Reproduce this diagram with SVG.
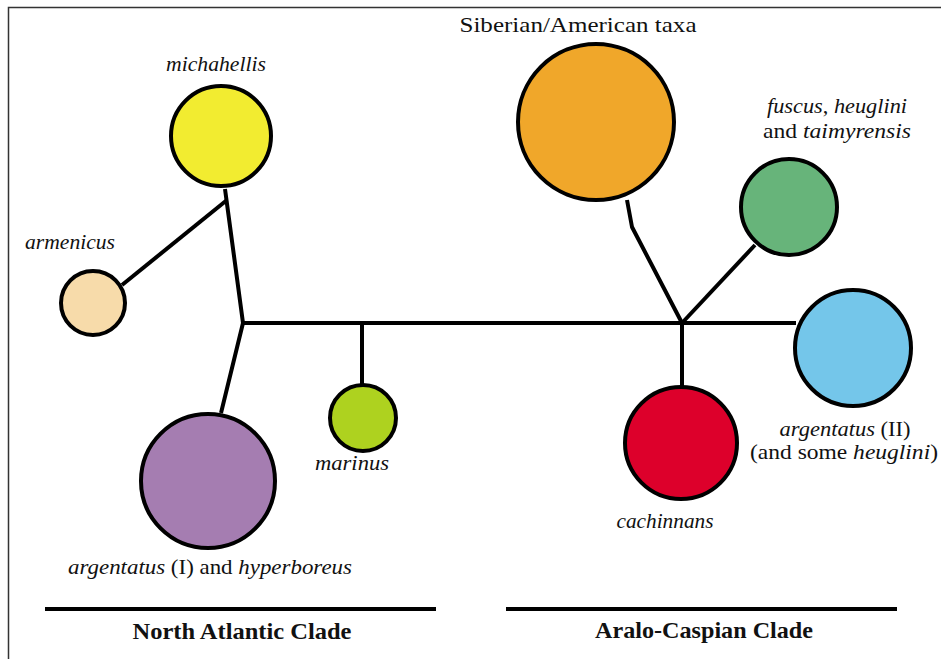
<svg xmlns="http://www.w3.org/2000/svg" width="941" height="659" viewBox="0 0 941 659">
<style>
.n{stroke:#000;stroke-width:4}
.c{stroke:#000;stroke-width:4;fill:none;stroke-linejoin:round}
.t{font-family:"Liberation Serif","DejaVu Serif",serif;font-size:22px;fill:#111}
.i{font-style:italic}
.b{font-family:"Liberation Serif","DejaVu Serif",serif;font-size:23px;font-weight:bold;fill:#111}
</style>
<rect width="941" height="659" fill="#fff"/>
<path d="M8.5 659 V7.5 H941" fill="none" stroke="#333" stroke-width="1.5"/>
<g id="connectors">
<path class="c" d="M225 189 L243 323 L221 413"/>
<path class="c" d="M227 200 L122 285"/>
<path class="c" d="M243 323 H796"/>
<path class="c" d="M362 323 V385"/>
<path class="c" d="M682 323 L632 227 L627 200"/>
<path class="c" d="M682 323 L755 245"/>
<path class="c" d="M682 323 V388"/>
<path class="c" d="M45 609 H436"/>
<path class="c" d="M506 609 H897"/>
</g>
<g id="michahellis"><circle class="n" cx="221" cy="136" r="50" fill="#F2EC30"/><text class="t i" x="216" y="71" text-anchor="middle" textLength="100" lengthAdjust="spacingAndGlyphs">michahellis</text></g>
<g id="armenicus"><circle class="n" cx="93" cy="303" r="32" fill="#F7DBAA"/><text class="t i" x="70" y="249" text-anchor="middle" textLength="90" lengthAdjust="spacingAndGlyphs">armenicus</text></g>
<g id="argentatus1"><circle class="n" cx="208" cy="481" r="67" fill="#A57DB1"/><text class="t" x="210" y="574" text-anchor="middle" textLength="284" lengthAdjust="spacingAndGlyphs"><tspan class="i">argentatus</tspan> (I) and <tspan class="i">hyperboreus</tspan></text></g>
<g id="marinus"><circle class="n" cx="363" cy="418" r="33" fill="#AED21F"/><text class="t i" x="352" y="470" text-anchor="middle" textLength="74" lengthAdjust="spacingAndGlyphs">marinus</text></g>
<g id="siberian"><circle class="n" cx="596" cy="122" r="78" fill="#F0A72A"/><text class="t" x="578" y="32" text-anchor="middle" textLength="237" lengthAdjust="spacingAndGlyphs">Siberian/American taxa</text></g>
<g id="fuscus"><circle class="n" cx="789" cy="207" r="48" fill="#67B47A"/><text class="t" x="837" y="113" text-anchor="middle" textLength="140" lengthAdjust="spacingAndGlyphs"><tspan class="i">fuscus</tspan>, <tspan class="i">heuglini</tspan></text><text class="t" x="837" y="138" text-anchor="middle" textLength="148" lengthAdjust="spacingAndGlyphs">and <tspan class="i">taimyrensis</tspan></text></g>
<g id="argentatus2"><circle class="n" cx="853" cy="348" r="58" fill="#74C6EA"/><text class="t" x="845" y="436" text-anchor="middle" textLength="131" lengthAdjust="spacingAndGlyphs"><tspan class="i">argentatus</tspan> (II)</text><text class="t" x="844" y="459" text-anchor="middle" textLength="188" lengthAdjust="spacingAndGlyphs">(and some <tspan class="i">heuglini</tspan>)</text></g>
<g id="cachinnans"><circle class="n" cx="681" cy="443" r="56" fill="#DD002B"/><text class="t i" x="665" y="528" text-anchor="middle" textLength="97" lengthAdjust="spacingAndGlyphs">cachinnans</text></g>
<g id="clades"><text class="b" x="242" y="639" text-anchor="middle" textLength="219" lengthAdjust="spacingAndGlyphs">North Atlantic Clade</text><text class="b" x="704" y="638" text-anchor="middle" textLength="218" lengthAdjust="spacingAndGlyphs">Aralo-Caspian Clade</text></g>
</svg>
